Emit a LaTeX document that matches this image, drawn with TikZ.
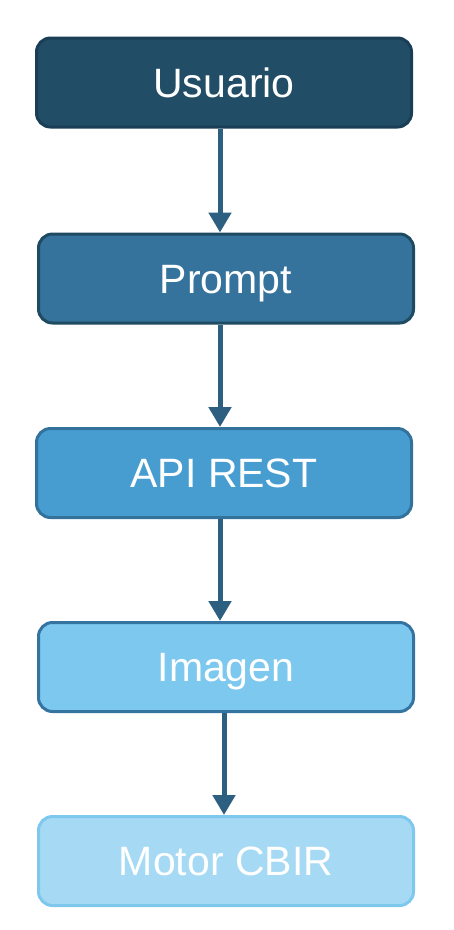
\documentclass[tikz,border=0pt]{standalone}
\usepackage{fontspec}
\setmainfont{Liberation Sans}
\usetikzlibrary{arrows.meta}
\definecolor{fA}{HTML}{214E66}\definecolor{bA}{HTML}{1A3E55}
\definecolor{fB}{HTML}{35739C}\definecolor{bB}{HTML}{1E4A62}
\definecolor{fC}{HTML}{479DD0}\definecolor{bC}{HTML}{33729B}
\definecolor{fD}{HTML}{7DC8EE}\definecolor{bD}{HTML}{3573A0}
\definecolor{fE}{HTML}{A6DAF4}\definecolor{bE}{HTML}{7EC8EE}
\definecolor{arrc}{HTML}{2D5F80}
\tikzset{
  stepbox/.style={rounded corners=14pt, line width=3pt, minimum width=375pt,
    minimum height=89pt, inner sep=0pt, text=white, text height=29.5pt, text depth=-1pt,
    font=\fontsize{41}{49}\selectfont},
  arr/.style={draw=arrc, line width=5pt, -{Triangle[width=22pt,length=20pt]}}
}
\begin{document}
\begin{tikzpicture}[x=1pt,y=-1pt]
\useasboundingbox (0,0) rectangle (454,930);
\node[stepbox, fill=fA, draw=bA] (u) at (224,82.5) {Usuario};
\node[stepbox, fill=fB, draw=bB] (p) at (226,278.5) {Prompt};
\node[stepbox, fill=fC, draw=bC] (a) at (224,473) {API REST};
\node[stepbox, fill=fD, draw=bD] (i) at (226,667) {Imagen};
\node[stepbox, fill=fE, draw=bE] (m) at (226,861) {Motor CBIR};
\draw[arr] ([xshift=-4pt]u.south) -- ([xshift=-6pt]p.north);
\draw[arr] ([xshift=-6pt]p.south) -- ([xshift=-4pt]a.north);
\draw[arr] ([xshift=-4pt]a.south) -- ([xshift=-6pt]i.north);
\draw[arr] ([xshift=-2pt]i.south) -- ([xshift=-2pt]m.north);
\end{tikzpicture}
\end{document}
